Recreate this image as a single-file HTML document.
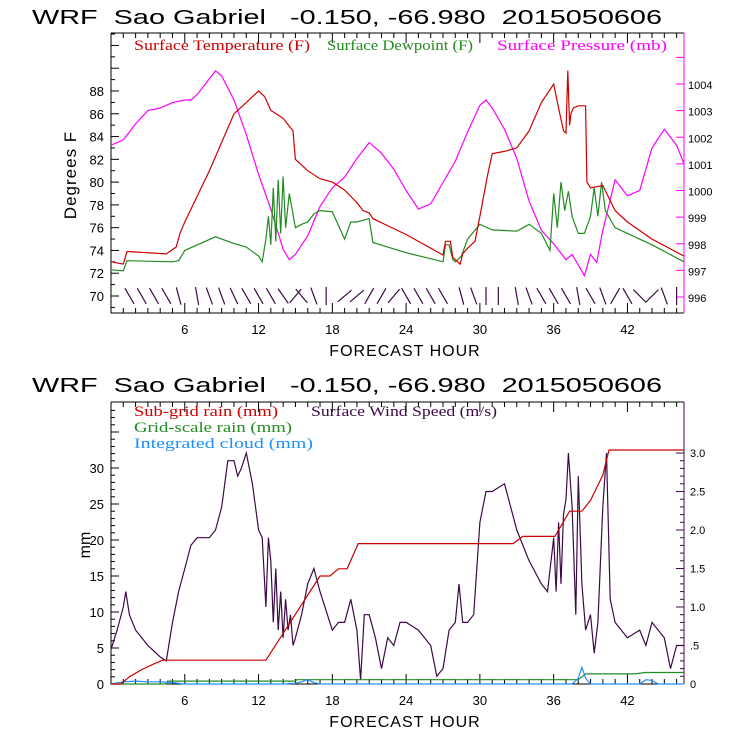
<!DOCTYPE html>
<html><head><meta charset="utf-8">
<style>
html,body{margin:0;padding:0;background:#fff;}
svg{display:block;font-family:"Liberation Sans",sans-serif;}
.tl{font-size:13px;fill:#000;}
.ttl{font-size:20px;fill:#000;white-space:pre;}
.lg{font-family:"Liberation Serif",serif;font-size:15px;}
</style></head>
<body>
<svg id="chart" width="740" height="740" viewBox="0 0 740 740">
<rect width="740" height="740" fill="#fff"/>
<text class="ttl" x="32" y="24" textLength="630" lengthAdjust="spacingAndGlyphs" xml:space="preserve">WRF  Sao Gabriel   -0.150, -66.980  2015050606</text>
<text class="ttl" x="32" y="392" textLength="630" lengthAdjust="spacingAndGlyphs" xml:space="preserve">WRF  Sao Gabriel   -0.150, -66.980  2015050606</text>
<g id="top"></g>
<g id="bot"></g>
</svg>
<script>
// ---- data ----
const xTicks=[6,12,18,24,30,36,42];
const tempH=[0,1,1.3,1.5,4.5,5.3,5.6,6,8,10,11,12,12.5,13,14,14.8,15,16,17,18,19,20,20.5,21,21.3,24,27,27.2,27.6,27.8,28.4,28.6,29,29.6,30,30.6,31,32,33,34,35,36,36.4,36.8,37,37.15,37.3,37.4,37.6,38,38.6,38.7,39,40,41,42,44,46.6];
const tempV=[73,72.8,73.9,73.9,73.7,74.3,75.5,76.5,81,86,87,88,87.5,86.3,85.6,84.5,82,81,80.3,80,79.3,78.2,77.5,77.3,76.8,75.4,73.6,74.8,74.8,73.4,72.8,73.7,74.2,74.8,77,80.5,82.5,82.7,83,84.5,87,88.6,86.5,84.5,84.3,89.8,85,86,86.5,86.7,86.7,80,79.5,79.7,77.5,76.5,75,73.5];
const dewH=[0,1,1.3,5,5.5,6,8.5,10,11,12,12.3,12.6,12.8,13,13.2,13.4,13.6,13.8,14,14.2,14.5,15,15.5,16,16.5,17,18,19,19.5,20,21,21.3,24,27,27.2,27.5,27.8,28,28.5,29,30,31,33,34,35,35.7,36,36.3,36.6,36.9,37.2,37.5,38,38.5,39,39.3,39.6,39.9,40.2,41,42,44,46.6];
const dewV=[72.3,72.2,73.1,73,73.1,74,75.2,74.6,74.3,73.5,73,75,77,74.5,79.5,74.8,80.2,75.5,80.5,76,79,76,76.3,76.5,77.2,77.5,77.4,75,76.5,76.5,76.8,74.7,73.8,73,74.5,74.5,73.2,73,73.5,75,76.3,75.8,75.7,76.3,75.5,74,79,76,80,77.5,79.2,77,75.5,75.5,77,79.5,77,80,77.5,76,75.5,74.5,73];
const presH=[0,1,2,3,4,5,6,6.5,7,8,8.5,9,10,11,12,13,14,14.5,15,16,17,18,19,20,21,22,23,24,25,26,27,28,29,30,30.5,31,32,33,34,35,36,37,37.5,38,38.5,39,39.5,40,41,42,43,44,45,46,46.6];
const presV=[1001.7,1001.9,1002.5,1003,1003.1,1003.3,1003.4,1003.4,1003.6,1004.2,1004.5,1004.3,1003.4,1002.1,1000.6,999.3,997.8,997.4,997.6,998.3,999.4,1000.1,1000.5,1001.2,1001.8,1001.4,1000.8,1000,999.3,999.5,1000.3,1001.1,1002.2,1003.2,1003.4,1003.1,1002.3,1001.2,999.6,998.5,998,997.4,997.6,997.2,996.8,997.6,997.3,998.5,1000.4,999.8,1000,1001.6,1002.3,1001.7,1001];
const barbH=[1.5,2.5,3.5,4.5,5.5,7,8,9,10,11,12,13,14,15,15.5,16.5,17.5,19,20,21,22,23,24,25,26,27,28.5,29.5,30.5,31.5,33,34,35,36,37,38,39,40,41,42,43,44,45,46];
const barbA=[-60,-60,-60,-60,-75,-80,-70,-70,-65,-60,-60,-60,-55,50,-50,-70,-90,40,40,60,60,50,-60,-60,-60,-60,-75,-70,-90,-90,-80,-70,-60,-60,-60,-80,-60,-70,60,-60,-45,45,-70,-90];
const rainH=[0,0.8,1.5,2.5,3.5,4.2,12.6,17,17.8,18.5,19.2,20.1,32.7,33.5,34,36.1,37.3,38.3,39,40,40.5,46.6];
const rainV=[0,0,1,2,2.8,3.3,3.3,15,15,16,16,19.5,19.5,20.5,20.5,20.5,24,24,25.5,29,32.5,32.5];
const gridH=[0,4.5,4.6,15,15.1,38,38.6,42.5,43.5,46.6];
const gridV=[0,0,0.4,0.4,0.6,0.6,1.4,1.4,1.6,1.6];
const cloudH=[0,1,2,3,4,5,6,14,15,15.5,16,16.5,17,37.5,38,38.3,38.6,39,43,43.5,44,44.5,46.6];
const cloudV=[0,0.3,0.4,0.3,0.3,0.2,0,0,0.1,0.3,0.6,0.2,0,0,0.8,2.3,0.8,0,0,0.6,0.5,0,0];
const windH=[0,0.5,1,1.2,1.5,2,2.5,3,4,4.5,5,5.5,6,6.5,7,8,8.5,9,9.5,10,10.3,10.6,11,11.5,12,12.3,12.6,12.8,13,13.2,13.4,13.6,13.8,14,14.2,14.4,14.6,14.8,15,15.5,16,16.5,17,18,18.5,19,19.5,20,20.3,20.6,21,21.5,22,22.5,23,23.5,24,25,26,26.5,27,27.5,28,28.3,28.6,29,29.5,30,30.5,31,32,33,33.5,34,35,35.5,36,36.2,36.4,36.6,36.8,37,37.2,37.5,37.8,38,38.3,38.6,39,39.3,39.6,40,40.3,40.6,41,42,43,43.5,44,45,45.5,46,46.6];
const windV=[0.45,0.7,1.0,1.2,0.9,0.7,0.6,0.5,0.35,0.3,0.8,1.2,1.5,1.8,1.9,1.9,2.0,2.3,2.9,2.9,2.7,2.8,3.0,2.6,2.0,1.9,1.0,1.9,1.6,0.8,1.5,0.7,1.2,0.6,1.1,0.7,0.9,0.5,0.6,0.9,1.3,1.5,1.2,0.7,0.8,0.8,1.1,0.7,0.05,0.9,0.9,0.6,0.2,0.6,0.5,0.8,0.8,0.7,0.5,0.1,0.2,0.7,0.8,1.3,0.8,0.8,0.9,2.1,2.5,2.5,2.6,2.0,1.8,1.6,1.3,1.2,1.9,1.2,2.1,1.3,2.2,2.4,3.0,2.3,0.9,2.7,1.3,0.7,0.9,0.4,0.8,2.3,3.0,1.1,0.8,0.6,0.7,0.5,0.8,0.6,0.2,0.5,0.5,1.0,1.1];
// ---- axes ----
const X0=111,X1=684,H0=0,H1=46.6;
const xs=h=>X0+(h-H0)/(H1-H0)*(X1-X0);
const TT=33,TB=313;
const yT=v=>296-(v-70)*(205/18);
const yP=v=>297-(v-996)*(213/8);
const BT=402,BB=684;
const yR=v=>684-v*7.2;
const yW=v=>684-v*77;
const NS="http://www.w3.org/2000/svg";
function mk(p,tag,attrs){const e=document.createElementNS(NS,tag);for(const k in attrs)e.setAttribute(k,attrs[k]);p.appendChild(e);return e;}
function line(p,hs,vs,yf,col,name){
  const d=hs.map((h,i)=>(i?'L':'M')+xs(h).toFixed(1)+','+yf(vs[i]).toFixed(1)).join('');
  const e=mk(p,'path',{d:d,fill:'none',stroke:col,'stroke-width':1.2});
  
  
}
function txt(p,x,y,s,cls,anchor,fill){const e=mk(p,'text',{x:x,y:y,class:cls,'text-anchor':anchor||'start'});if(fill)e.setAttribute('fill',fill);e.textContent=s;return e;}
function frame(p,t,b,rcol){
  mk(p,'path',{d:`M${X0},${t}V${b}H${X1}M${X0},${t}H${X1}`,stroke:'#000',fill:'none','stroke-width':1});
  mk(p,'line',{x1:X1,y1:t,x2:X1,y2:b,stroke:rcol,'stroke-width':1});
  for(let h=1;h<H1;h++){const x=xs(h);const big=h%6==0;
    mk(p,'line',{x1:x,y1:b,x2:x,y2:b-(big?10:5),stroke:'#000'});
    mk(p,'line',{x1:x,y1:t,x2:x,y2:t+(big?10:5),stroke:'#000'});}
  xTicks.forEach(h=>{const e=txt(p,xs(h),b+21,String(h),'tl','middle');
    
    });
  const f=txt(p,405,b+43,'FORECAST HOUR','tl','middle');f.setAttribute('style','font-size:16px;letter-spacing:1px');
  
  
}
function legend(p,x,y,s,col,len,name){
  const e=txt(p,x,y,s,'lg','start',col);
  e.setAttribute('textLength',len);
  e.setAttribute('lengthAdjust','spacingAndGlyphs');
  
  
}
// top panel
const gTop=document.getElementById('top');
frame(gTop,TT,TB,'#ff00ff');
for(let v=69;v<=93;v++){const y=yT(v);if(y<TT||y>TB)continue;const big=v%2==0;
  mk(gTop,'line',{x1:X0,y1:y,x2:X0+(big?8:4),y2:y,stroke:'#000'});
  if(big&&v>=70&&v<=88){const e=txt(gTop,104,y+5,String(v),'tl','end');
    
    }}
for(let v=996;v<=1005;v++){const y=yP(v);if(y<TT||y>TB)continue;
  mk(gTop,'line',{x1:X1,y1:y,x2:X1-8,y2:y,stroke:'#ff00ff'});
  if(v<=1004){const e=txt(gTop,688,y+5,String(v),'tl','start');e.setAttribute('style','font-size:11px');
    
    }}
const yl=txt(gTop,0,0,'Degrees F','tl','middle');yl.setAttribute('transform','translate(76,175) rotate(-90)');yl.setAttribute('style','font-size:17px;letter-spacing:1px');


legend(gTop,134,50,'Surface Temperature (F)','#cc0000',176,'legend-temperature');
legend(gTop,327,50,'Surface Dewpoint (F)','#228b22',146,'legend-dewpoint');
legend(gTop,497,50,'Surface Pressure (mb)','#ff00ff',170,'legend-pressure');
line(gTop,presH,presV,yP,'#ff00ff','pressure-line');
line(gTop,dewH,dewV,yT,'#228b22','dewpoint-line');
line(gTop,tempH,tempV,yT,'#cc0000','temperature-line');
barbH.forEach((h,i)=>{const x=xs(h),y=296,a=-barbA[i]*Math.PI/180,L=9;
  const e=mk(gTop,'line',{x1:x-L*Math.cos(a),y1:y-L*Math.sin(a),x2:x+L*Math.cos(a),y2:y+L*Math.sin(a),stroke:'#3d0a45','stroke-width':1.2});
  
  });
// bottom panel
const gBot=document.getElementById('bot');
frame(gBot,BT,BB,'#3d0a45');
for(let v=0;v<=38;v++){const y=yR(v);if(y<BT)continue;const big=v%5==0;
  mk(gBot,'line',{x1:X0,y1:y,x2:X0+(big?8:4),y2:y,stroke:'#000'});
  if(big&&v<=30){const e=txt(gBot,104,y+5,String(v),'tl','end');
    
    }}
const rightLabels=['0','.5','1.0','1.5','2.0','2.5','3.0'];
for(let k=0;k<=30;k++){const v=k/10,y=yW(v);if(y<BT)continue;const big=k%5==0;
  mk(gBot,'line',{x1:X1,y1:y,x2:X1-(big?8:4),y2:y,stroke:'#3d0a45'});
  if(big){const e=txt(gBot,690,y+4,rightLabels[k/5],'tl','start');e.setAttribute('style','font-size:11px');
    
    }}
const ml=txt(gBot,0,0,'mm','tl','middle');ml.setAttribute('transform','translate(90,545) rotate(-90)');ml.setAttribute('style','font-size:16px');


legend(gBot,134,416,'Sub-grid rain (mm)','#cc0000',144,'legend-subgrid-rain');
legend(gBot,311,416,'Surface Wind Speed (m/s)','#3d0a45',186,'legend-wind-speed');
legend(gBot,134,432,'Grid-scale rain (mm)','#228b22',158,'legend-grid-rain');
legend(gBot,134,448,'Integrated cloud (mm)','#1e90ff',179,'legend-cloud');
line(gBot,windH,windV,yW,'#3d0a45','wind-speed-line');
line(gBot,gridH,gridV,yR,'#228b22','grid-rain-line');
line(gBot,cloudH,cloudV,yR,'#1e90ff','cloud-line');
line(gBot,rainH,rainV,yR,'#cc0000','subgrid-rain-line');
</script>
</body></html>
